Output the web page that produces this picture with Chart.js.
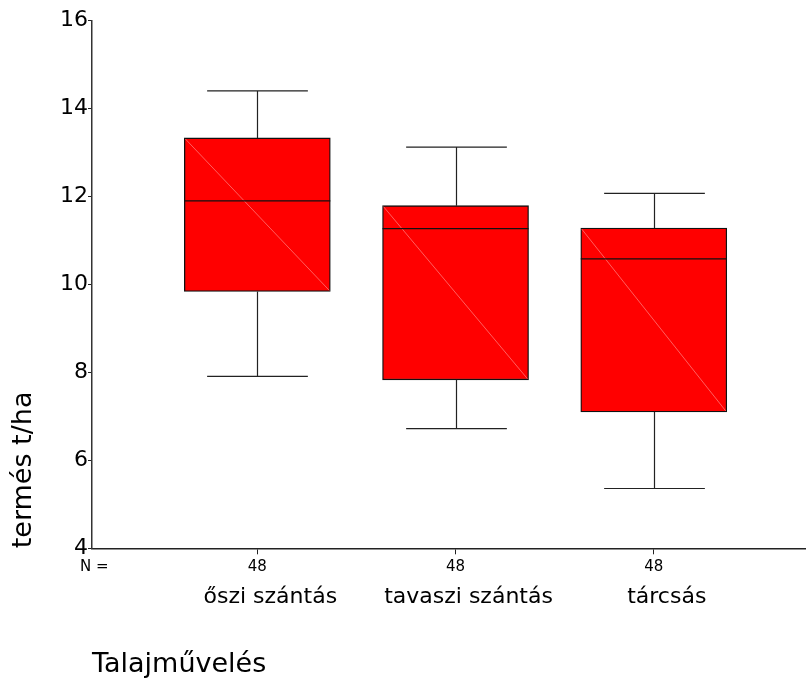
<!DOCTYPE html>
<html>
<head>
<meta charset="utf-8">
<script src="https://cdn.jsdelivr.net/npm/chart.js@4/dist/chart.umd.min.js"></script>
<style>
  html, body { margin: 0; padding: 0; background: #fff; }
  canvas { display: block; }
</style>
</head>
<body>
<canvas id="chart" width="806" height="681"></canvas>
<script>
// Yield (t/ha) by tillage method, five-number summaries per group
const categories  = ['őszi szántás', 'tavaszi szántás', 'tárcsás'];
const nCounts     = [48, 48, 48];
const whiskerLow  = [7.91, 6.72, 5.36];
const quartile1   = [9.84, 7.83, 7.10];
const medians     = [11.90, 11.27, 10.58];
const quartile3   = [13.33, 11.79, 11.28];
const whiskerHigh = [14.40, 13.12, 12.07];
const yTicks      = [4, 6, 8, 10, 12, 14, 16];

const positions = categories.map((_, i) => i + 1);
const FONT = "'DejaVu Sans', sans-serif";

Chart.defaults.color = '#000';
Chart.defaults.font.family = FONT;

// Whiskers, caps, median line and the thin diagonal inside each box
const boxExtras = {
  id: 'boxExtras',
  afterDatasetsDraw(chart) {
    const { ctx, scales: { x, y } } = chart;
    const meta = chart.getDatasetMeta(0);
    ctx.save();
    meta.data.forEach((bar, i) => {
      const p = bar.getProps(['x', 'y', 'base', 'width'], true);
      const left = p.x - p.width / 2;
      const right = p.x + p.width / 2;
      const top = Math.min(p.y, p.base);
      const bottom = Math.max(p.y, p.base);

      ctx.strokeStyle = 'rgba(255,150,150,0.8)';
      ctx.lineWidth = 0.8;
      ctx.beginPath();
      ctx.moveTo(left + 1, top + 1);
      ctx.lineTo(right - 1, bottom - 1);
      ctx.stroke();

      const cx = Math.round(x.getPixelForValue(positions[i])) + 0.5;
      const capHalf = p.width * 0.345;
      const yMed = y.getPixelForValue(medians[i]);
      const yHi = y.getPixelForValue(whiskerHigh[i]);
      const yLo = y.getPixelForValue(whiskerLow[i]);
      const yQ3 = y.getPixelForValue(quartile3[i]);
      const yQ1 = y.getPixelForValue(quartile1[i]);

      ctx.strokeStyle = '#111';
      ctx.lineWidth = 1.3;
      ctx.beginPath();
      ctx.moveTo(left, yMed);
      ctx.lineTo(right, yMed);
      ctx.stroke();

      ctx.strokeStyle = '#222';
      ctx.lineWidth = 1.2;
      ctx.beginPath();
      ctx.moveTo(cx, yQ3); ctx.lineTo(cx, yHi);
      ctx.moveTo(cx, yQ1); ctx.lineTo(cx, yLo);
      ctx.moveTo(cx - capHalf, yHi); ctx.lineTo(cx + capHalf, yHi);
      ctx.moveTo(cx - capHalf, yLo); ctx.lineTo(cx + capHalf, yLo);
      ctx.stroke();
    });

    // "N =" caption in front of the group sizes
    const xs = chart.scales.x;
    const tickFont = Chart.helpers.toFont(xs.options.ticks.font);
    const midY = xs.top + xs.options.grid.tickLength + xs.options.ticks.padding + tickFont.lineHeight / 2;
    ctx.fillStyle = '#000';
    ctx.font = tickFont.string;
    ctx.textBaseline = 'middle';
    ctx.textAlign = 'left';
    ctx.fillText('N =', xs.left - 12, midY);
    ctx.restore();
  }
};

const setCategoryTicks = (scale) => {
  scale.ticks = positions.map(v => ({ value: v }));
};

new Chart(document.getElementById('chart'), {
  type: 'bar',
  data: {
    datasets: [{
      data: positions.map((p, i) => ({ x: p, y: [quartile1[i], quartile3[i]] })),
      backgroundColor: '#ff0000',
      borderColor: '#111',
      borderWidth: 1.3,
      borderSkipped: false,
      barThickness: 146
    }]
  },
  options: {
    responsive: false,
    animation: false,
    devicePixelRatio: 1,
    layout: { padding: { top: 20.5, right: 0, bottom: 0, left: 0 } },
    plugins: { legend: { display: false }, tooltip: { enabled: false } },
    scales: {
      x: {
        type: 'linear',
        position: 'bottom',
        weight: 0,
        offset: false,
        min: 0.166,
        max: 3.768,
        afterBuildTicks: setCategoryTicks,
        afterFit: (s) => { s.height = 28; },
        grid: { offset: false, drawOnChartArea: false, drawTicks: true, tickLength: 6, color: '#222', lineWidth: 1 },
        border: { display: true, color: '#222', width: 1.4 },
        ticks: {
          font: { size: 15 },
          padding: 4,
          maxRotation: 0,
          autoSkip: false,
          callback: (v, i) => String(nCounts[i])
        }
      },
      xNames: {
        type: 'linear',
        position: 'bottom',
        weight: 1,
        offset: false,
        min: 0.166,
        max: 3.768,
        afterBuildTicks: setCategoryTicks,
        afterFit: (s) => { s.height = 104.7; },
        grid: { display: false, drawTicks: false, offset: false },
        border: { display: false },
        ticks: {
          font: { size: 22 },
          padding: 8,
          labelOffset: 13,
          maxRotation: 0,
          autoSkip: false,
          callback: (v, i) => categories[i]
        },
        title: {
          display: true,
          text: 'Talajművelés',
          align: 'start',
          font: { size: 27 },
          padding: { top: 0, bottom: 0 }
        }
      },
      y: {
        type: 'linear',
        position: 'left',
        min: 4,
        max: 16,
        afterBuildTicks: (s) => { s.ticks = yTicks.map(v => ({ value: v })); },
        afterFit: (s) => { s.width = 92; },
        grid: { drawOnChartArea: false, drawTicks: true, tickLength: 4, color: '#222', lineWidth: 1 },
        border: { display: true, color: '#333', width: 1.5 },
        ticks: { font: { size: 22 }, padding: 0 },
        title: {
          display: true,
          text: 'termés t/ha',
          align: 'start',
          font: { size: 27 },
          padding: { top: 8, bottom: 0 }
        }
      }
    }
  },
  plugins: [boxExtras]
});
</script>
</body>
</html>
